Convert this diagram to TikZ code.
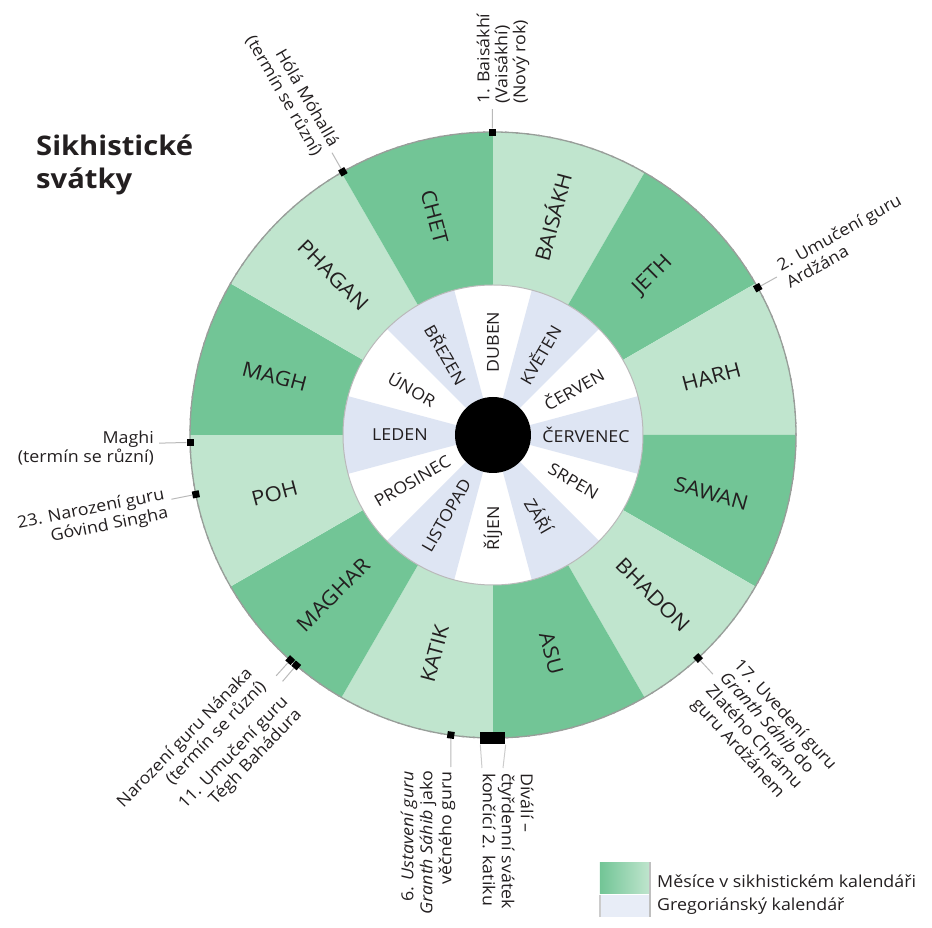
\documentclass[tikz,border=0pt]{standalone}
\usepackage{fontspec}
\setmainfont{Open Sans}[FakeStretch=1.08]
\definecolor{sikhdark}{RGB}{114,197,150}
\definecolor{sikhlight}{RGB}{192,229,206}
\definecolor{gregblue}{RGB}{222,229,243}
\definecolor{ink}{RGB}{35,31,32}
\definecolor{rimgray}{RGB}{150,158,152}
\begin{document}
\begin{tikzpicture}[x=1pt,y=1pt,
  ringlabel/.style={font=\fontsize{20.5}{24}\selectfont, text=ink, inner sep=0pt},
  greglabel/.style={font=\fontsize{16.5}{20}\selectfont, text=ink, inner sep=0pt},
  eventlabel/.style={font=\fontsize{16.5}{19}\selectfont, text=ink, inner sep=0pt},
  marker/.style={rectangle, fill=black, minimum size=7pt, inner sep=0pt, draw=none},
  conn/.style={draw=gray!55, line width=1pt},
]
\useasboundingbox (-493,-493) rectangle (439,435);

% Sikh month ring
\foreach \a/\c/\t/\r [count=\i] in {75/sikhlight/BAISÁKH/75, 45/sikhdark/JETH/45, 15/sikhlight/HARH/15, -15/sikhdark/SAWAN/-15, -45/sikhlight/BHADON/-45, -75/sikhdark/ASU/-75, -105/sikhlight/KATIK/75, -135/sikhdark/MAGHAR/45, -165/sikhlight/POH/15, 165/sikhdark/MAGH/-15, 135/sikhlight/PHAGAN/-45, 105/sikhdark/CHET/-75}
{
  \fill[\c] (\a-15:150) arc[start angle=\a-15, end angle=\a+15, radius=150]
     -- (\a+15:303) arc[start angle=\a+15, end angle=\a-15, radius=303] -- cycle;
  \node[ringlabel, rotate=\r] (sm\i) at (\a:226) {\t};
}

% Gregorian disc
\fill[white] (0,0) circle (150);
\foreach \a in {0,60,120,180,240,300}
{
  \fill[gregblue] (\a-15:38) arc[start angle=\a-15, end angle=\a+15, radius=38]
     -- (\a+15:150) arc[start angle=\a+15, end angle=\a-15, radius=150] -- cycle;
}
\foreach \a/\t/\r [count=\i] in {90/DUBEN/90, 60/KVĚTEN/60, 30/ČERVEN/30, 0/ČERVENEC/0, -30/SRPEN/-30, -60/ZÁŘÍ/-60, -90/ŘÍJEN/90, -120/LISTOPAD/60, -150/PROSINEC/30, 180/LEDEN/0, 150/ÚNOR/-30, 120/BŘEZEN/-60}
{
  \node[greglabel, rotate=\r] (gm\i) at (\a:93) {\t};
}
\draw[gray!55, line width=1pt] (0,0) circle (150);
\node[circle, fill=black, minimum size=76pt, inner sep=0pt] (hub) at (0,0) {};

% rim
\draw[rimgray, line width=1.3pt] (0,0) circle (303);
\draw[gray!75, line width=1.5pt, dash pattern=on 2pt off 9pt] (0,0) circle (303);

% connector end points
\coordinate (c1) at (90.1:326);
\coordinate (c2) at (119.7:325);
\coordinate (c3) at (29.1:325);
\coordinate (c4) at (181.4:334);
\coordinate (c5) at (191.3:328);
\coordinate (c6) at (-132:324);
\coordinate (c7) at (-130.5:324);
\coordinate (c8) at (-42,-332);
\coordinate (c9a) at (-11,-333);
\coordinate (c9b) at (10,-333);
\coordinate (c10) at (-47.4:325);

% markers
\node[marker, rotate=90] (m1) at (90.1:303) {};
\node[marker, rotate=119.7] (m2) at (119.7:303) {};
\node[marker, rotate=29.1] (m3) at (29.1:303) {};
\node[marker] (m4) at (181.4:303) {};
\node[marker, rotate=191.3] (m5) at (191.3:303) {};
\node[marker, rotate=-132] (m6) at (-132:303) {};
\node[marker, rotate=-130.5] (m7) at (-130.5:303) {};
\node[marker, rotate=-98] (m8) at (-98:303) {};
\node[marker, minimum width=25pt, minimum height=12pt] (m9) at (-90:303.5) {};
\node[marker, rotate=-47.4] (m10) at (-47.4:303) {};

\draw[conn] (m1) -- (c1);
\draw[conn] (m2) -- (c2);
\draw[conn] (m3) -- (c3);
\draw[conn] (m4) -- (c4);
\draw[conn] (m5) -- (c5);
\draw[conn] (m6) -- (c6);
\draw[conn] (m7) -- (c7);
\draw[conn] (m8) -- (c8);
\draw[conn, draw=gray!40] (m9.south west) -- (c9a);
\draw[conn, draw=gray!40] (m9.south east) -- (c9b);
\draw[conn] (m10) -- (c10);

% event labels
\node[eventlabel, font=\fontsize{16.5}{18}\selectfont, rotate=90, anchor=west, align=left] (l1) at (10,331) {1. Baisákhí\\(Vaisákhí)\\(Nový rok)};
\node[eventlabel, rotate=-60, anchor=east, align=right] (l2) at (120.4:330) {Hólá Móhallá\\(termín se různí)};
\node[eventlabel, rotate=29, anchor=west, align=left] (l3) at (29:331) {2. Umučení guru\\Ardžána};
\node[eventlabel, anchor=east, align=right] (l4) at (-339,-13) {Maghi\\(termín se různí)};
\node[eventlabel, rotate=11.3, anchor=east, align=right] (l5) at (192:334) {23. Narození guru\\Góvind Singha};
\node[eventlabel, rotate=46, anchor=east, align=right] (l6) at (-134.3:338.7) {Narození guru Nánaka\\(termín se různí)};
\node[eventlabel, rotate=46, anchor=east, align=right] (l7) at (-126.5:337) {11. Umučení guru\\Tégh Bahádura};
\node[eventlabel, rotate=90, anchor=east, align=right] (l8) at (-65,-336) {6. \textit{Ustavení guru}\\\textit{Granth Sáhib} jako\\věčného guru};
\node[eventlabel, rotate=-90, anchor=west, align=left] (l9) at (15,-338) {Díválí –\\čtyřdenní svátek\\končící 2. katiku};
\node[eventlabel, rotate=-47.5, anchor=west, align=left] (l10) at (-48:332) {17. Uvedení guru\\\textit{Granth Sáhib} do\\Zlatého Chrámu\\guru Ardžánem};

% title
\node[font=\bfseries\fontsize{27}{33}\selectfont, text=ink, inner sep=0pt, anchor=west, align=left] (title) at (-457,270.5) {Sikhistické\\svátky};

% legend
\shade[left color=sikhdark, right color=sikhlight] (107,-427) rectangle (157,-458);
\fill[gregblue!70!white] (107,-460) rectangle (157,-482);
\draw[gray!50, line width=1.5pt] (157,-427) -- (157,-482);
\draw[gray!40, line width=1.5pt] (107,-460) -- (107,-482);
\node[eventlabel, anchor=base west] (leg1) at (164,-452) {Měsíce v sikhistickém kalendáři};
\node[eventlabel, anchor=base west] (leg2) at (164,-475) {Gregoriánský kalendář};
\end{tikzpicture}
\end{document}
